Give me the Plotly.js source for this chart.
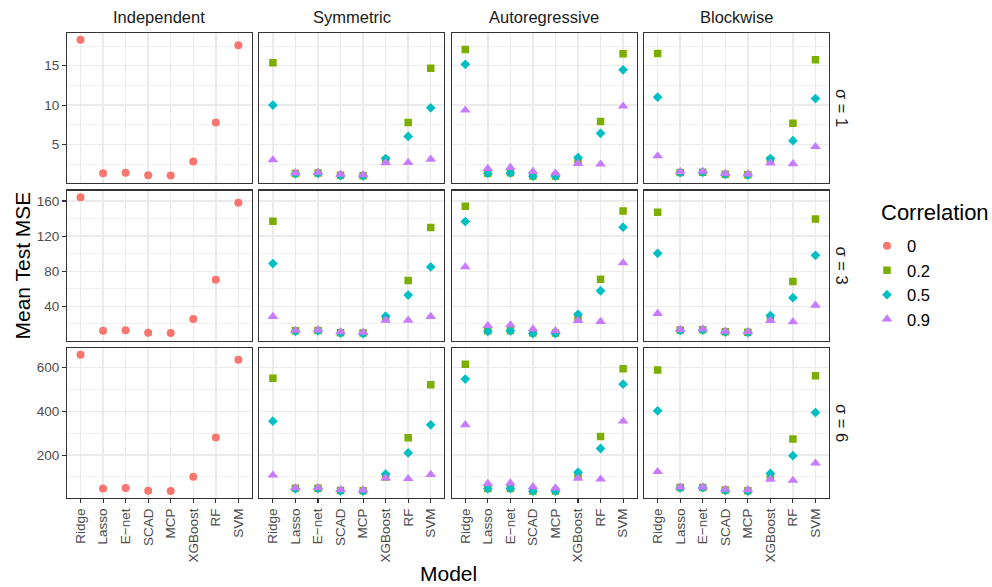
<!DOCTYPE html>
<html>
<head>
<meta charset="utf-8">
<script src="https://cdn.plot.ly/plotly-3.0.1.min.js"></script>
<style>html,body{margin:0;padding:0;background:#fff}#chart{width:992px;height:587px}</style>
</head>
<body>
<div id="chart"></div>
<script>
// ---------- categories & labels ----------
const models = ['Ridge', 'Lasso', 'E\u2212net', 'SCAD', 'MCP', 'XGBoost', 'RF', 'SVM'];
const structures = ['Independent', 'Symmetric', 'Autoregressive', 'Blockwise'];
const sigmaLabels = ['\u03C3 = 1', '\u03C3 = 3', '\u03C3 = 6'];
const correlations = ['0', '0.2', '0.5', '0.9'];
const yTickStep = [5, 40, 200];

// ---------- sigma = 1 ----------
const indep_s1_c0   = [18.3, 1.33, 1.38, 1.08, 1.04, 2.81, 7.78, 17.62];
const sym_s1_c02    = [15.38, 1.30, 1.35, 1.08, 1.02, 3.0, 7.78, 14.67];
const sym_s1_c05    = [10.0, 1.25, 1.30, 1.02, 0.98, 3.19, 6.0, 9.65];
const sym_s1_c09    = [3.02, 1.35, 1.42, 1.18, 1.12, 2.65, 2.68, 3.1];
const auto_s1_c02   = [17.08, 1.33, 1.38, 0.98, 0.97, 2.9, 7.91, 16.52];
const auto_s1_c05   = [15.18, 1.30, 1.35, 0.95, 0.95, 3.32, 6.4, 14.49];
const auto_s1_c09   = [9.35, 1.92, 2.05, 1.54, 1.33, 2.56, 2.47, 9.86];
const block_s1_c02  = [16.57, 1.42, 1.45, 1.2, 1.12, 3.0, 7.7, 15.76];
const block_s1_c05  = [11.0, 1.40, 1.45, 1.18, 1.10, 3.19, 5.47, 10.82];
const block_s1_c09  = [3.53, 1.5, 1.55, 1.28, 1.22, 2.6, 2.52, 4.71];

// ---------- sigma = 3 ----------
const indep_s3_c0   = [164.2, 12.0, 12.8, 9.8, 9.5, 25.6, 70.2, 158.1];
const sym_s3_c02    = [137.0, 12.0, 12.5, 10.0, 9.5, 26.0, 69.4, 129.8];
const sym_s3_c05    = [88.7, 11.5, 12.0, 9.3, 8.8, 28.7, 52.8, 84.9];
const sym_s3_c09    = [28.3, 12.5, 13.0, 11.0, 10.2, 24.1, 24.1, 28.3];
const auto_s3_c02   = [154.0, 12.0, 12.5, 9.5, 9.5, 27.0, 70.9, 148.7];
const auto_s3_c05   = [136.6, 11.5, 12.0, 9.0, 9.0, 30.9, 57.7, 130.2];
const auto_s3_c09   = [84.9, 18.1, 18.8, 14.0, 12.0, 23.7, 22.6, 89.4];
const block_s3_c02  = [147.2, 13.0, 13.2, 10.9, 10.5, 26.0, 68.3, 139.6];
const block_s3_c05  = [100.4, 12.5, 13.0, 10.5, 10.0, 29.4, 49.8, 98.1];
const block_s3_c09  = [31.7, 13.5, 14.0, 11.5, 11.0, 23.7, 22.2, 41.1];

// ---------- sigma = 6 ----------
const indep_s6_c0   = [658, 47.5, 49, 37, 35.5, 101, 280, 635];
const sym_s6_c02    = [551, 48, 48, 38, 37, 100, 279, 521];
const sym_s6_c05    = [355, 46, 47, 36, 35, 113, 210, 338];
const sym_s6_c09    = [108, 50, 51, 42, 40, 95, 92, 111];
const auto_s6_c02   = [615, 47, 48, 36, 36, 105, 285, 594];
const auto_s6_c05   = [547, 47, 47, 35, 35, 121, 230, 524];
const auto_s6_c09   = [338, 70, 72, 55, 49, 93, 90, 355];
const block_s6_c02  = [589, 52, 52, 40, 37, 100, 273, 562];
const block_s6_c05  = [402, 50, 51, 38, 35, 116, 197, 394];
const block_s6_c09  = [124, 53, 54, 43, 41, 89, 84, 163];

// panel table: rows = sigma, cols = structure
const panels = [
  [{'0': indep_s1_c0}, {'0.2': sym_s1_c02, '0.5': sym_s1_c05, '0.9': sym_s1_c09},
   {'0.2': auto_s1_c02, '0.5': auto_s1_c05, '0.9': auto_s1_c09},
   {'0.2': block_s1_c02, '0.5': block_s1_c05, '0.9': block_s1_c09}],
  [{'0': indep_s3_c0}, {'0.2': sym_s3_c02, '0.5': sym_s3_c05, '0.9': sym_s3_c09},
   {'0.2': auto_s3_c02, '0.5': auto_s3_c05, '0.9': auto_s3_c09},
   {'0.2': block_s3_c02, '0.5': block_s3_c05, '0.9': block_s3_c09}],
  [{'0': indep_s6_c0}, {'0.2': sym_s6_c02, '0.5': sym_s6_c05, '0.9': sym_s6_c09},
   {'0.2': auto_s6_c02, '0.5': auto_s6_c05, '0.9': auto_s6_c09},
   {'0.2': block_s6_c02, '0.5': block_s6_c05, '0.9': block_s6_c09}]
];

// ---------- styles ----------
const W = 992, H = 587;
const colors  = {'0': '#F8766D', '0.2': '#7CAE00', '0.5': '#00BFC4', '0.9': '#C77CFF'};
const symbols = {'0': 'circle', '0.2': 'square', '0.5': 'diamond', '0.9': 'triangle-up'};
const sizes   = {'0': 8, '0.2': 7.5, '0.5': 7.5, '0.9': 9.5};
const FONT = 'Liberation Sans, Arial, Helvetica, sans-serif';

const panelL = 67, panelR = 829, gapX = 7.5;
const panelW = (panelR - panelL - 3 * gapX) / 4;
const panelT = 33, panelH = 150, gapY = 7.5;
const colDom = c => [(panelL + c * (panelW + gapX)) / W, (panelL + c * (panelW + gapX) + panelW) / W];
const rowDom = r => {
  const top = panelT + r * (panelH + gapY);
  return [1 - (top + panelH) / H, 1 - top / H];
};

const traces = [];
const layout = {
  width: W, height: H,
  margin: {l: 0, r: 0, t: 0, b: 0},
  paper_bgcolor: '#ffffff', plot_bgcolor: '#ffffff',
  font: {family: FONT, color: '#1A1A1A'},
  showlegend: true,
  legend: {
    x: 867 / W, xanchor: 'left', y: 1 - 228.5 / H, yanchor: 'top',
    font: {size: 16.5, color: '#000000', family: FONT},
    bgcolor: 'rgba(0,0,0,0)', tracegroupgap: 0, itemclick: false
  },
  annotations: []
};

const shown = {};
for (let r = 0; r < 3; r++) {
  // row range from data (5% expansion like ggplot)
  let lo = Infinity, hi = -Infinity;
  panels[r].forEach(p => Object.values(p).forEach(arr => arr.forEach(v => { lo = Math.min(lo, v); hi = Math.max(hi, v); })));
  const pad = 0.05 * (hi - lo);
  const yr = [lo - pad, hi + pad];

  for (let c = 0; c < 4; c++) {
    const k = r * 4 + c;
    const sfx = k === 0 ? '' : String(k + 1);
    const xa = 'x' + sfx, ya = 'y' + sfx;
    const bottom = r === 2, left = c === 0;

    layout['xaxis' + sfx] = {
      domain: colDom(c), anchor: ya, type: 'category',
      categoryorder: 'array', categoryarray: models,
      range: [-0.6, models.length - 0.4], fixedrange: true,
      showgrid: true, gridcolor: '#EBEBEB', gridwidth: 1.4,
      zeroline: false, showline: true, mirror: true, linecolor: '#333333', linewidth: 1.1,
      ticks: bottom ? 'outside' : '', ticklen: 4, tickwidth: 1.1, tickcolor: '#333333',
      showticklabels: bottom, tickangle: -90,
      tickfont: {size: 13.5, color: '#4D4D4D', family: FONT}
    };
    layout['yaxis' + sfx] = {
      domain: rowDom(r), anchor: xa, range: yr, fixedrange: true,
      tickmode: 'linear', tick0: 0, dtick: yTickStep[r],
      showgrid: true, gridcolor: '#EBEBEB', gridwidth: 1.4,
      minor: {dtick: yTickStep[r] / 2, showgrid: true, gridcolor: '#EBEBEB', gridwidth: 0.7, ticks: ''},
      zeroline: false, showline: true, mirror: true, linecolor: '#333333', linewidth: 1.1,
      ticks: left ? 'outside' : '', ticklen: 4, tickwidth: 1.1, tickcolor: '#333333',
      showticklabels: left,
      tickfont: {size: 13.5, color: '#4D4D4D', family: FONT}
    };

    correlations.forEach(cor => {
      const vals = panels[r][c][cor];
      if (!vals) return;
      traces.push({
        type: 'scatter', mode: 'markers', x: models, y: vals,
        xaxis: xa, yaxis: ya, name: cor, legendgroup: cor,
        showlegend: !shown[cor], hoverinfo: 'x+y+name',
        marker: {color: colors[cor], symbol: symbols[cor], size: sizes[cor], line: {width: 0}}
      });
      shown[cor] = true;
    });
  }
}

// strip labels (top)
structures.forEach((s, c) => {
  const d = colDom(c);
  layout.annotations.push({
    text: s, xref: 'paper', yref: 'paper', x: (d[0] + d[1]) / 2, y: 1 - 17 / H,
    xanchor: 'center', yanchor: 'middle', showarrow: false,
    font: {size: 16.5, color: '#1A1A1A', family: FONT}
  });
});
// strip labels (right)
sigmaLabels.forEach((s, r) => {
  const d = rowDom(r);
  layout.annotations.push({
    text: s, xref: 'paper', yref: 'paper', x: 842 / W, y: (d[0] + d[1]) / 2,
    xanchor: 'center', yanchor: 'middle', showarrow: false, textangle: 90,
    font: {size: 16.5, color: '#1A1A1A', family: FONT}
  });
});
// legend title
layout.annotations.push({
  text: 'Correlation', xref: 'paper', yref: 'paper', x: 879 / W, y: 1 - 213 / H,
  xanchor: 'left', yanchor: 'middle', showarrow: false,
  font: {size: 22, color: '#000000', family: FONT}
});
// axis titles
layout.annotations.push({
  text: 'Mean Test MSE', xref: 'paper', yref: 'paper', x: 22 / W, y: 1 - 265.5 / H,
  xanchor: 'center', yanchor: 'middle', showarrow: false, textangle: -90,
  font: {size: 21, color: '#000000', family: FONT}
});
layout.annotations.push({
  text: 'Model', xref: 'paper', yref: 'paper', x: 448 / W, y: 1 - 573 / H,
  xanchor: 'center', yanchor: 'middle', showarrow: false,
  font: {size: 21, color: '#000000', family: FONT}
});

Plotly.newPlot('chart', traces, layout, {displayModeBar: false, staticPlot: true});
</script>
</body>
</html>
